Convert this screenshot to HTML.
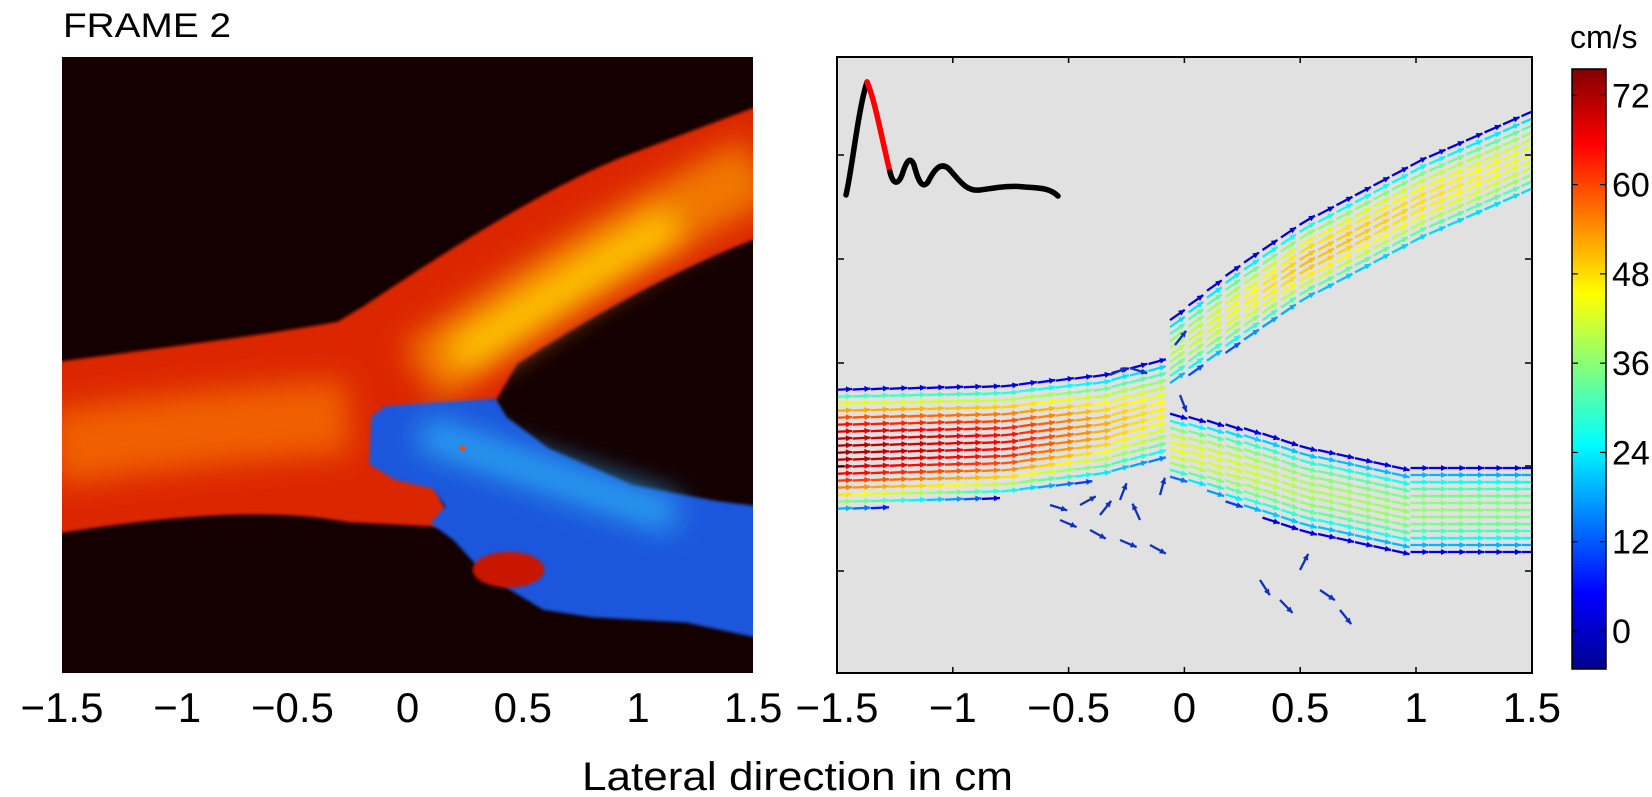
<!DOCTYPE html>
<html><head><meta charset="utf-8"><style>
html,body{margin:0;padding:0;background:#fff;}
svg{display:block;font-family:"Liberation Sans",sans-serif;}
</style></head><body>
<svg id="s" width="1652" height="797" viewBox="0 0 1652 797" xmlns="http://www.w3.org/2000/svg">
<defs>
<linearGradient id="jet" x1="0" y1="1" x2="0" y2="0">
<stop offset="0" stop-color="#00008f"/><stop offset="0.125" stop-color="#0000ff"/>
<stop offset="0.375" stop-color="#00ffff"/><stop offset="0.625" stop-color="#ffff00"/>
<stop offset="0.875" stop-color="#ff0000"/><stop offset="1" stop-color="#800000"/>
</linearGradient>
<clipPath id="cl"><rect x="62" y="57" width="691" height="616"/></clipPath>
<clipPath id="cr"><rect x="837" y="57" width="695" height="616"/></clipPath>
<filter id="b8" filterUnits="userSpaceOnUse" x="0" y="0" width="1652" height="797"><feGaussianBlur stdDeviation="14"/></filter>
<filter id="b3" filterUnits="userSpaceOnUse" x="0" y="0" width="1652" height="797"><feGaussianBlur stdDeviation="1.5"/></filter>
</defs>
<text x="63" y="37" font-size="34" fill="#000" textLength="168" lengthAdjust="spacingAndGlyphs">FRAME 2</text>

<!-- left panel -->
<rect x="62" y="57" width="691" height="616" fill="#140000"/>
<g clip-path="url(#cl)">
<g transform="scale(1.055)">
<path d="M40,345 C150,330 250,318 320,305 L345,290 C420,240 520,175 600,145 L720,100 L720,225 C640,255 560,300 490,345 L470,380 L380,390 L430,500 L330,495 C250,480 150,490 40,508 Z" fill="#dc2800" filter="url(#b3)"/>
<path d="M50,425 C150,410 250,400 330,395" fill="none" stroke="#f06000" stroke-width="70" filter="url(#b8)"/>
<path d="M400,355 C480,300 580,230 720,160" fill="none" stroke="#f07800" stroke-width="65" filter="url(#b8)"/>
<path d="M430,340 C500,295 560,255 640,210" fill="none" stroke="#ffcc00" stroke-width="30" filter="url(#b8)"/>
<path d="M352,395 L365,385 L470,378 L480,395 L520,425 L600,460 L680,475 L720,480 L720,605 L650,590 L560,585 L515,578 L460,545 L430,512 L408,496 L422,480 L410,463 L375,455 L350,440 Z" fill="#1e56dc" filter="url(#b3)"/>
<path d="M400,410 C460,430 530,455 640,490" fill="none" stroke="#2aa6f2" stroke-width="30" filter="url(#b8)"/>
<ellipse cx="482" cy="540" rx="34" ry="17" fill="#c81800" filter="url(#b3)"/>
<rect x="435" y="422" width="6" height="5" fill="#e05020"/>
</g>
</g>

<!-- right panel -->
<rect x="837" y="57" width="695" height="616" fill="#e1e1e1"/>
<g id="arr" clip-path="url(#cr)"></g>
<path d="M846,195 C852,170 858,110 867,82" fill="none" stroke="#000" stroke-width="5.5" stroke-linecap="round"/>
<path d="M867,82 C875,100 882,140 890,172" fill="none" stroke="#ff0000" stroke-width="5.5" stroke-linecap="round"/>
<path d="M890,172 C893,185 898,185 902,175 C906,162 910,155 914,165 C918,180 922,190 928,182 C934,170 940,162 948,168 C958,178 965,192 980,190 C995,188 1010,185 1025,187 C1040,188 1050,188 1058,196" fill="none" stroke="#000" stroke-width="5.5" stroke-linecap="round"/>
<rect x="837" y="57" width="695" height="616" fill="none" stroke="#000" stroke-width="2"/>
<g stroke="#000" stroke-width="1.5" id="rt"></g>

<!-- colorbar -->
<rect x="1572" y="69" width="34" height="600" fill="url(#jet)" stroke="#000" stroke-width="1.5"/>
<g font-size="34" fill="#000" id="cb"></g>
<text x="1570" y="48" font-size="32">cm/s</text>

<!-- x tick labels -->
<g font-size="42" fill="#000" text-anchor="middle" id="xt"></g>
<text x="582" y="790" font-size="40" textLength="431" lengthAdjust="spacingAndGlyphs">Lateral direction in cm</text>
</svg>
<script>
var NS="http://www.w3.org/2000/svg";
function el(t,a,p){var e=document.createElementNS(NS,t);for(var k in a)e.setAttribute(k,a[k]);p.appendChild(e);return e;}
var labs=["\u22121.5","\u22121","\u22120.5","0","0.5","1","1.5"];
var xt=document.getElementById("xt");
for(var i=0;i<7;i++){
 el("text",{x:62+i*115.2,y:722},xt).textContent=labs[i];
 el("text",{x:837+i*115.8,y:722},xt).textContent=labs[i];
}
var cb=document.getElementById("cb");
[0,12,24,36,48,60,72].forEach(function(v){var y=631-v*7.44;el("text",{x:1612,y:y+12},cb).textContent=v;
 el("line",{x1:1572,x2:1578,y1:y,y2:y,stroke:"#000","stroke-width":1.2},cb);el("line",{x1:1600,x2:1606,y1:y,y2:y,stroke:"#000","stroke-width":1.2},cb);});
var rt=document.getElementById("rt");
[155,259,363,466,571].forEach(function(y){el("line",{x1:837,x2:844,y1:y,y2:y},rt);el("line",{x1:1525,x2:1532,y1:y,y2:y},rt);});
for(var i=1;i<6;i++){var x=837+i*115.8;el("line",{x1:x,x2:x,y1:57,y2:63},rt);el("line",{x1:x,x2:x,y1:667,y2:673},rt);}
function jet(v){var t=(v+5)/81;t=Math.max(0,Math.min(1,t));
 function c(x){return Math.round(255*Math.max(0,Math.min(1,x)));}
 var r=c(Math.min(4*t-1.5,-4*t+4.5)),g=c(Math.min(4*t-0.5,-4*t+3.5)),b=c(Math.min(4*t+0.5,-4*t+2.5));
 return "rgb("+r+","+g+","+b+")";}
var A=document.getElementById("arr");
function interp(pts,x){for(var i=0;i<pts.length-1;i++){if(x<=pts[i+1][0]){var f=(x-pts[i][0])/(pts[i+1][0]-pts[i][0]);return pts[i][1]+f*(pts[i+1][1]-pts[i][1]);}}return pts[pts.length-1][1];}
function arrow(x,y,ang,col,L){
 var ux=Math.cos(ang),uy=Math.sin(ang),dx=ux*L,dy=uy*L;
 el("line",{x1:x,y1:y,x2:x+dx,y2:y+dy,stroke:col,"stroke-width":2.3},A);
 var hx=x+dx,hy=y+dy;
 el("polygon",{points:hx+","+hy+" "+(hx-6*ux-3*uy)+","+(hy-6*uy+3*ux)+" "+(hx-6*ux+3*uy)+","+(hy-6*uy-3*ux),fill:col},A);
}
function vessel(cpts,hpts,spts,x0,x1){
 for(var x=x0;x<=x1;x+=18.5){
  var c=interp(cpts,x),h=interp(hpts,x),pk=interp(spts,x);
  var sl=(interp(cpts,x+8)-interp(cpts,x-8))/16;
  var ang=Math.atan(sl);
  for(var o=-h;o<=h+0.1;o+=7){
   var y=c+o,r=o/h,s=pk*Math.pow(Math.max(0,1-r*r),0.6)+3;
   arrow(x,y,ang,jet(s),18);
  }
 }
}
vessel([[830,451],[1000,442],[1100,428],[1165,410]],[[830,61],[1165,50]],[[830,70],[1000,62],[1100,48],[1165,42]],834,1160);
vessel([[1150,368],[1233,310],[1300,265],[1420,202],[1540,150]],[[1150,32],[1233,40],[1540,42]],[[1150,35],[1300,48],[1420,45],[1540,40]],1170,1525);
vessel([[1150,440],[1200,455],[1300,488],[1400,510],[1540,510]],[[1150,30],[1250,42],[1540,42]],[[1150,42],[1300,36],[1540,32]],1170,1525);
var sc=[[1080,505,-0.5],[1100,515,-0.9],[1120,500,-1.2],[1140,520,-2.0],[1160,495,-1.3],[1060,520,0.4],[1090,530,0.5],[1120,540,0.4],[1150,545,0.5],[1050,505,0.3],[1260,580,1.0],[1280,600,0.8],[1300,570,-1.1],[1320,590,0.6],[1340,610,0.9],[1110,375,-0.4],[1130,368,0.3],[1175,345,-0.9],[1180,395,1.2]];
sc.forEach(function(p){arrow(p[0],p[1],p[2],"#1030c0",18);});
</script>
</body></html>
